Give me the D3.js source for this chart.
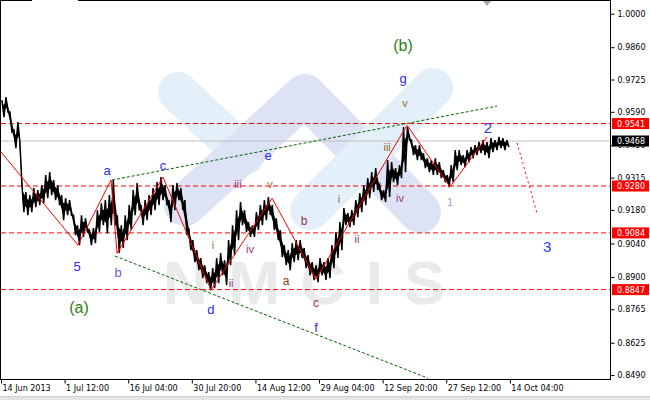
<!DOCTYPE html>
<html><head><meta charset="utf-8">
<script src="https://cdn.jsdelivr.net/npm/d3@7"></script>
<style>body{margin:0;background:#fff}svg{display:block}</style>
</head><body><svg id="c" width="650" height="400"></svg>
<script>
// ---- data ----
const xTickLabels = ["14 Jun 2013","1 Jul 12:00","16 Jul 04:00","30 Jul 20:00","14 Aug 12:00","29 Aug 04:00","12 Sep 20:00","27 Sep 12:00","14 Oct 04:00"];
const barsPerTick = 256;     // H1 bars between date labels
const sampleBars = 16;       // bars per high/low sample
const yTicks = [1.0000,0.9860,0.9725,0.9590,0.9450,0.9315,0.9180,0.9040,0.8900,0.8765,0.8625,0.8490];
const levels = [0.9541,0.9280,0.9084,0.8847];
const lastPrice = 0.9468;
const priceHigh = [0.9639,0.9652,0.9589,0.9514,0.9547,0.9292,0.9255,0.9242,0.9271,0.9263,0.9284,0.9326,0.9338,0.9305,0.9284,0.9242,
  0.9229,0.9221,0.9158,0.9116,0.9158,0.9145,0.9096,0.9104,0.9179,0.9208,0.9221,0.9242,0.9305,0.9158,0.9116,0.9158,
  0.9200,0.9263,0.9292,0.9200,0.9221,0.9242,0.9271,0.9296,0.9317,0.9284,0.9221,0.9284,0.9292,0.9271,0.9221,0.9104,
  0.9054,0.9012,0.8979,0.8949,0.8920,0.8937,0.8979,0.9000,0.8970,0.9054,0.9116,0.9179,0.9213,0.9179,0.9129,0.9116,
  0.9171,0.9200,0.9221,0.9234,0.9200,0.9145,0.9096,0.9033,0.9012,0.9041,0.9054,0.9054,0.9021,0.8991,0.8962,0.8949,
  0.8979,0.8962,0.8979,0.9033,0.9088,0.9129,0.9188,0.9167,0.9179,0.9221,0.9250,0.9284,0.9313,0.9338,0.9355,0.9284,
  0.9263,0.9388,0.9380,0.9355,0.9367,0.9526,0.9526,0.9472,0.9451,0.9451,0.9417,0.9396,0.9388,0.9396,0.9380,0.9346,
  0.9326,0.9367,0.9430,0.9430,0.9409,0.9430,0.9443,0.9451,0.9464,0.9472,0.9464,0.9480,0.9472,0.9485,0.9480,0.9472];
const priceLow = [0.9568,0.9589,0.9506,0.9438,0.9464,0.9171,0.9158,0.9171,0.9192,0.9200,0.9208,0.9229,0.9242,0.9221,0.9200,0.9137,
  0.9158,0.9158,0.9075,0.9033,0.9067,0.9088,0.9033,0.9041,0.9088,0.9116,0.9083,0.9116,0.9116,0.9000,0.9021,0.9054,
  0.9096,0.9158,0.9179,0.9116,0.9137,0.9158,0.9179,0.9200,0.9221,0.9200,0.9129,0.9179,0.9221,0.9179,0.9075,0.9012,
  0.8962,0.8928,0.8895,0.8874,0.8845,0.8853,0.8874,0.8907,0.8866,0.8949,0.8991,0.9054,0.9116,0.9088,0.9067,0.9067,
  0.9096,0.9116,0.9137,0.9158,0.9096,0.9054,0.8983,0.8949,0.8928,0.8962,0.8970,0.8979,0.8937,0.8907,0.8887,0.8878,
  0.8907,0.8887,0.8895,0.8937,0.8979,0.9012,0.9116,0.9108,0.9116,0.9150,0.9171,0.9200,0.9229,0.9255,0.9263,0.9221,
  0.9213,0.9234,0.9296,0.9284,0.9313,0.9338,0.9472,0.9409,0.9388,0.9388,0.9355,0.9338,0.9326,0.9326,0.9313,0.9296,
  0.9275,0.9296,0.9346,0.9367,0.9359,0.9380,0.9396,0.9409,0.9417,0.9409,0.9396,0.9422,0.9430,0.9438,0.9430,0.9443];
// wave zigzag (bar, price)
const waveBars   = [0, 310, 443, 467, 652, 845, 1091, 1268, 1634, 1807, 1956];
const wavePrices = [0.9422,0.9033,0.9305,0.8999,0.9317,0.8845,0.9229,0.8891,0.9534,0.9276,0.9485];
const forecastBars = [2077, 2157];
const forecastPrices = [0.9460, 0.9167];
const upperTrendBars = [447, 1996], upperTrendPrices = [0.9305, 0.9614];
const lowerTrendBars = [459, 1719], lowerTrendPrices = [0.8987, 0.8477];
// labels: text, bar, price, colour group
const labelText  = ["(b)","g","v","a","c","e","2","1","3","5","b","(a)","d","f","iii","v","i","iv","ii","a","b","c","i","ii","iii","iv"];
const labelBar   = [1618,1618,1626,427,652,1075,1960,1807,2198,306,471,314,845,1268,954,1083,853,1002,926,1147,1220,1268,1360,1433,1554,1606];
const labelPrice = [0.9869,0.9731,0.9626,0.9346,0.9367,0.9409,0.9526,0.9213,0.9029,0.8945,0.8920,0.8774,0.8765,0.8690,0.9288,0.9288,0.9033,0.9016,0.8874,0.8882,0.9133,0.8790,0.9225,0.9058,0.9443,0.9229];
const labelKind  = ["G","B","O","B","B","B","B2","P","B2","B","S","G","B","B","P","O","O","P","P","R","M","M","O","P","O","P"];

// ---- scales ----
const W = 650, H = 400, plotR = 610, plotB = 379;
const x = d3.scaleLinear().domain([0, 2451]).range([1, plotR]);
const y = d3.scaleLinear().domain([0.84735, 1.00573]).range([plotB, 0]);
const svg = d3.select("#c");
svg.append("rect").attr("width", W).attr("height", H).attr("fill", "#fff");

// ---- watermark ----
const wm = svg.append("g");
wm.append("path").attr("d","M178,92 L245,155").attr("stroke","#e3f0f9").attr("stroke-width",40).attr("stroke-linecap","round").attr("fill","none");
wm.append("path").attr("d","M185,205 L305,95 L420,212").attr("stroke","#dde3f5").attr("stroke-width",42).attr("stroke-linecap","round").attr("stroke-linejoin","round").attr("fill","none");
wm.append("path").attr("d","M310,210 L433,88").attr("stroke","#e3f0f9").attr("stroke-width",40).attr("stroke-linecap","round").attr("fill","none");
wm.append("text").attr("x",163).attr("y",304).attr("textLength",282).attr("lengthAdjust","spacing")
  .attr("font-family","Liberation Sans, Arial, sans-serif").attr("font-weight","bold").attr("font-size",62)
  .attr("fill","#eaeaea").text("NMCIS");

// ---- horizontal levels ----
svg.append("line").attr("x1",1).attr("x2",plotR).attr("y1",y(lastPrice)).attr("y2",y(lastPrice)).attr("stroke","#c0c0c0");
svg.selectAll(".lvl").data(levels).join("line").attr("class","lvl")
  .attr("x1",1).attr("x2",plotR).attr("y1",d=>y(d)).attr("y2",d=>y(d))
  .attr("stroke","#ff0000").attr("stroke-dasharray","5,3");

// ---- trend lines ----
const seg = (bs, ps) => d3.line()(bs.map((b,i)=>[x(b), y(ps[i])]));
svg.append("path").attr("d", seg(upperTrendBars, upperTrendPrices)).attr("stroke","#006400").attr("stroke-dasharray","3,2").attr("fill","none");
svg.append("path").attr("d", seg(lowerTrendBars, lowerTrendPrices)).attr("stroke","#006400").attr("stroke-dasharray","3,2").attr("fill","none");

// ---- price: range band core + high/low zigzag ----
const samples = priceHigh.map((h,i)=>({b:i*sampleBars+8, h, l:priceLow[i]}));
const core = d3.area().x(d=>x(d.b))
  .y0(d=>y(d.l + (d.h-d.l)*0.3)).y1(d=>y(d.h - (d.h-d.l)*0.3));
svg.append("path").attr("d", core(samples)).attr("fill","#000");
const pts = [];
samples.forEach(s=>{ pts.push([x(s.b-4), y(s.h)]); pts.push([x(s.b+4), y(s.l)]); });
svg.append("path").attr("d", d3.line()(pts)).attr("stroke","#000").attr("stroke-width",1.5).attr("fill","none");

// ---- waves ----
svg.append("path").attr("d", seg(waveBars, wavePrices)).attr("stroke","#ff0000").attr("fill","none");
svg.append("path").attr("d", seg(forecastBars, forecastPrices)).attr("stroke","#ff0000").attr("stroke-dasharray","2,3").attr("fill","none");

// ---- labels ----
const colors = {G:"#2f7d14", B:"#2a2aff", B2:"#2a3cff", O:"#9c6a30", P:"#99337f", S:"#6a5ad8", R:"#8b3a1a", M:"#993355"};
const sizes  = {G:16, B:13, B2:15, O:11, P:11, S:13, R:12, M:12};
const lab = labelText.map((t,i)=>({t, b:labelBar[i], p:labelPrice[i], k:labelKind[i]}));
lab[7].c = "#a898e0";
svg.selectAll(".lab").data(lab).join("text").attr("class","lab")
  .attr("x", d=>x(d.b)).attr("y", d=>y(d.p)).attr("text-anchor","middle").attr("dominant-baseline","central")
  .attr("font-family","Liberation Sans, Arial, sans-serif").attr("font-size", d=>sizes[d.k])
  .attr("fill", d=>d.c || colors[d.k]).text(d=>d.t);

// ---- frame ----
svg.append("line").attr("x1",0.5).attr("x2",0.5).attr("y1",0).attr("y2",plotB).attr("stroke","#000");
svg.append("line").attr("x1",plotR+0.5).attr("x2",plotR+0.5).attr("y1",0).attr("y2",plotB).attr("stroke","#000");
svg.append("line").attr("x1",0).attr("x2",32).attr("y1",0.5).attr("y2",0.5).attr("stroke","#000");
svg.append("line").attr("x1",78).attr("x2",plotR).attr("y1",0.5).attr("y2",0.5).attr("stroke","#000");
svg.append("line").attr("x1",0).attr("x2",plotR+1).attr("y1",plotB+0.5).attr("y2",plotB+0.5).attr("stroke","#000");
svg.append("path").attr("d","M483,1 L491,1 L487,6 Z").attr("fill","#a8a8a8");

// ---- axes ----
const font = "DejaVu Sans, Verdana, sans-serif";
const yAxis = svg.append("g").attr("transform",`translate(${plotR+0.5},0)`)
  .call(d3.axisRight(y).tickValues(yTicks).tickFormat(d3.format(".4f")).tickSize(4).tickPadding(3));
yAxis.select(".domain").remove();
yAxis.selectAll("text").attr("font-family",font).attr("font-size",8).attr("fill","#000");
yAxis.selectAll("line").attr("stroke","#000");

const xTicks = xTickLabels.map((_,i)=>i*barsPerTick);
const xAxis = svg.append("g").attr("transform",`translate(0,${plotB+0.5})`)
  .call(d3.axisBottom(x).tickValues(xTicks).tickFormat((d,i)=>xTickLabels[i]).tickSize(4).tickPadding(2));
xAxis.select(".domain").remove();
xAxis.selectAll("text").attr("font-family",font).attr("font-size",8).attr("fill","#000").attr("text-anchor","start").attr("dx",1);
xAxis.selectAll("line").attr("stroke","#000");

// ---- price boxes on axis ----
const boxes = levels.map(v=>({v, bg:"#ff0000"})).concat([{v:lastPrice, bg:"#000"}]);
const bx = svg.selectAll(".box").data(boxes).join("g").attr("class","box");
bx.append("rect").attr("x",plotR+2).attr("y",d=>y(d.v)-5.5).attr("width",37).attr("height",11).attr("fill",d=>d.bg);
bx.append("text").attr("x",plotR+7).attr("y",d=>y(d.v)+3).attr("font-family",font).attr("font-size",8)
  .attr("fill","#fff").text(d=>d3.format(".4f")(d.v));

// bottom band
svg.append("rect").attr("x",0).attr("y",396).attr("width",W).attr("height",4).attr("fill","#e4e4e4");
svg.append("line").attr("x1",0).attr("x2",W).attr("y1",396.5).attr("y2",396.5).attr("stroke","#cfcfcf");
</script></body></html>
